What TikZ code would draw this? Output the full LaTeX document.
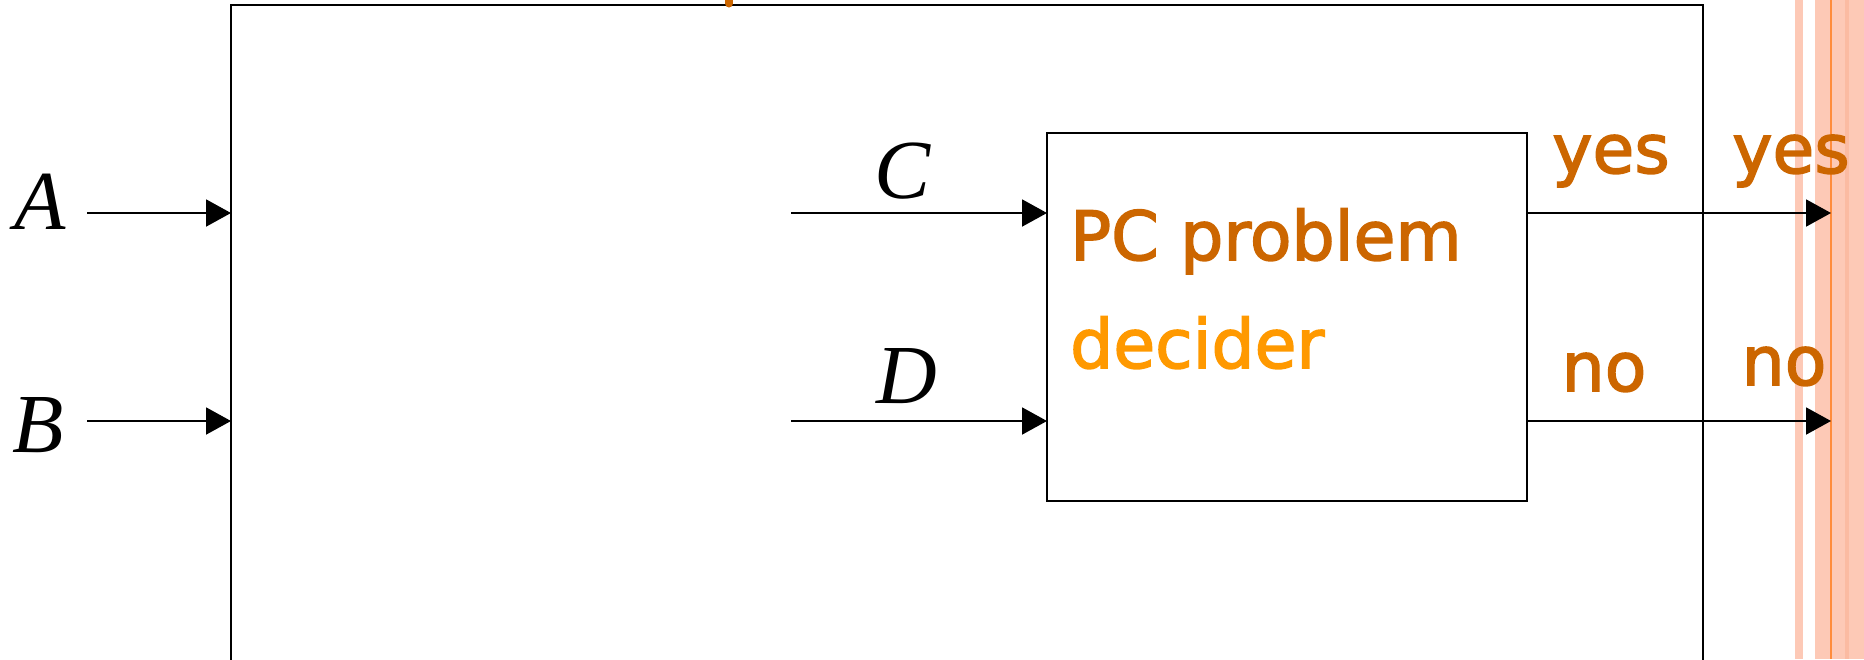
\documentclass[tikz,border=0pt]{standalone}
\usepackage{fontspec}
\usetikzlibrary{arrows.meta}
\newfontfamily\labelfont{Liberation Serif}
\newfontfamily\handfont[FakeBold=2.2]{DejaVu Sans}
\definecolor{rust}{HTML}{CC6600}
\definecolor{amber}{HTML}{FF9900}
\definecolor{salmon}{HTML}{FDC9B6}
\definecolor{salmondeep}{HTML}{FBBBA2}
\definecolor{rimorange}{HTML}{FF8C3C}

\begin{document}
\begin{tikzpicture}[x=1pt,y=-1pt,
  wire/.style={line width=2pt, -{Triangle[length=25pt,width=27pt]}},
  frame/.style={draw, line width=2pt, inner sep=0pt, outer sep=0pt},
  varlabel/.style={font=\labelfont\itshape\fontsize{84}{90}\selectfont, inner sep=0pt, anchor=base},
  hand/.style={font=\handfont\fontsize{68}{80}\selectfont, inner sep=0pt, text=rust},
]
\useasboundingbox (0,0) rectangle (1864,659);
\clip (0,0) rectangle (1864,659);

% shaded bands along the right edge
\fill[salmon] (1795,0) rectangle (1803,659);
\fill[salmon] (1815,0) rectangle (1864,659);
\fill[salmondeep] (1845,0) rectangle (1849,659);
\fill[rimorange] (1830,0) rectangle (1832,659);

% enclosing block (runs past the lower edge) and the decider block
\node[frame, minimum width=1472pt, minimum height=795pt] (outer) at (967,402.5) {};
\node[frame, minimum width=480pt, minimum height=368pt] (inner) at (1287,317) {};

% free ends of the connectors
\coordinate (a0) at (87,213);
\coordinate (b0) at (87,421);
\coordinate (c0) at (791,213);
\coordinate (d0) at (791,421);
\coordinate (yesend) at (1831,213);
\coordinate (noend) at (1831,421);

\draw[wire] (a0) -- (a0 -| outer.west);
\draw[wire] (b0) -- (b0 -| outer.west);
\draw[wire] (c0) -- (c0 -| inner.west);
\draw[wire] (d0) -- (d0 -| inner.west);
\draw[wire] (inner.east |- yesend) -- (yesend);
\draw[wire] (inner.east |- noend) -- (noend);

% input names
\node[varlabel] (la) at (40,229) {A};
\node[varlabel] (lb) at (38,452) {B};
\node[varlabel] (lc) at (903,198) {C};
\node[varlabel] (ld) at (907,403) {D};

% block caption
\node[hand, anchor=base west] (title1) at (1070,260) {PC problem};
\node[hand, anchor=base west, text=amber] (title2) at (1070,368) {decider};

% outcome labels
\node[hand, anchor=base] (yes1) at (1611,173) {yes};
\node[hand, anchor=base] (yes2) at (1791,173) {yes};
\node[hand, anchor=base] (no1) at (1604,391) {no};
\node[hand, anchor=base] (no2) at (1784,385) {no};

% mark on the top edge
\draw[rust, line width=8pt, line cap=round] (729,-10) -- (729,3.5);
\end{tikzpicture}
\end{document}
